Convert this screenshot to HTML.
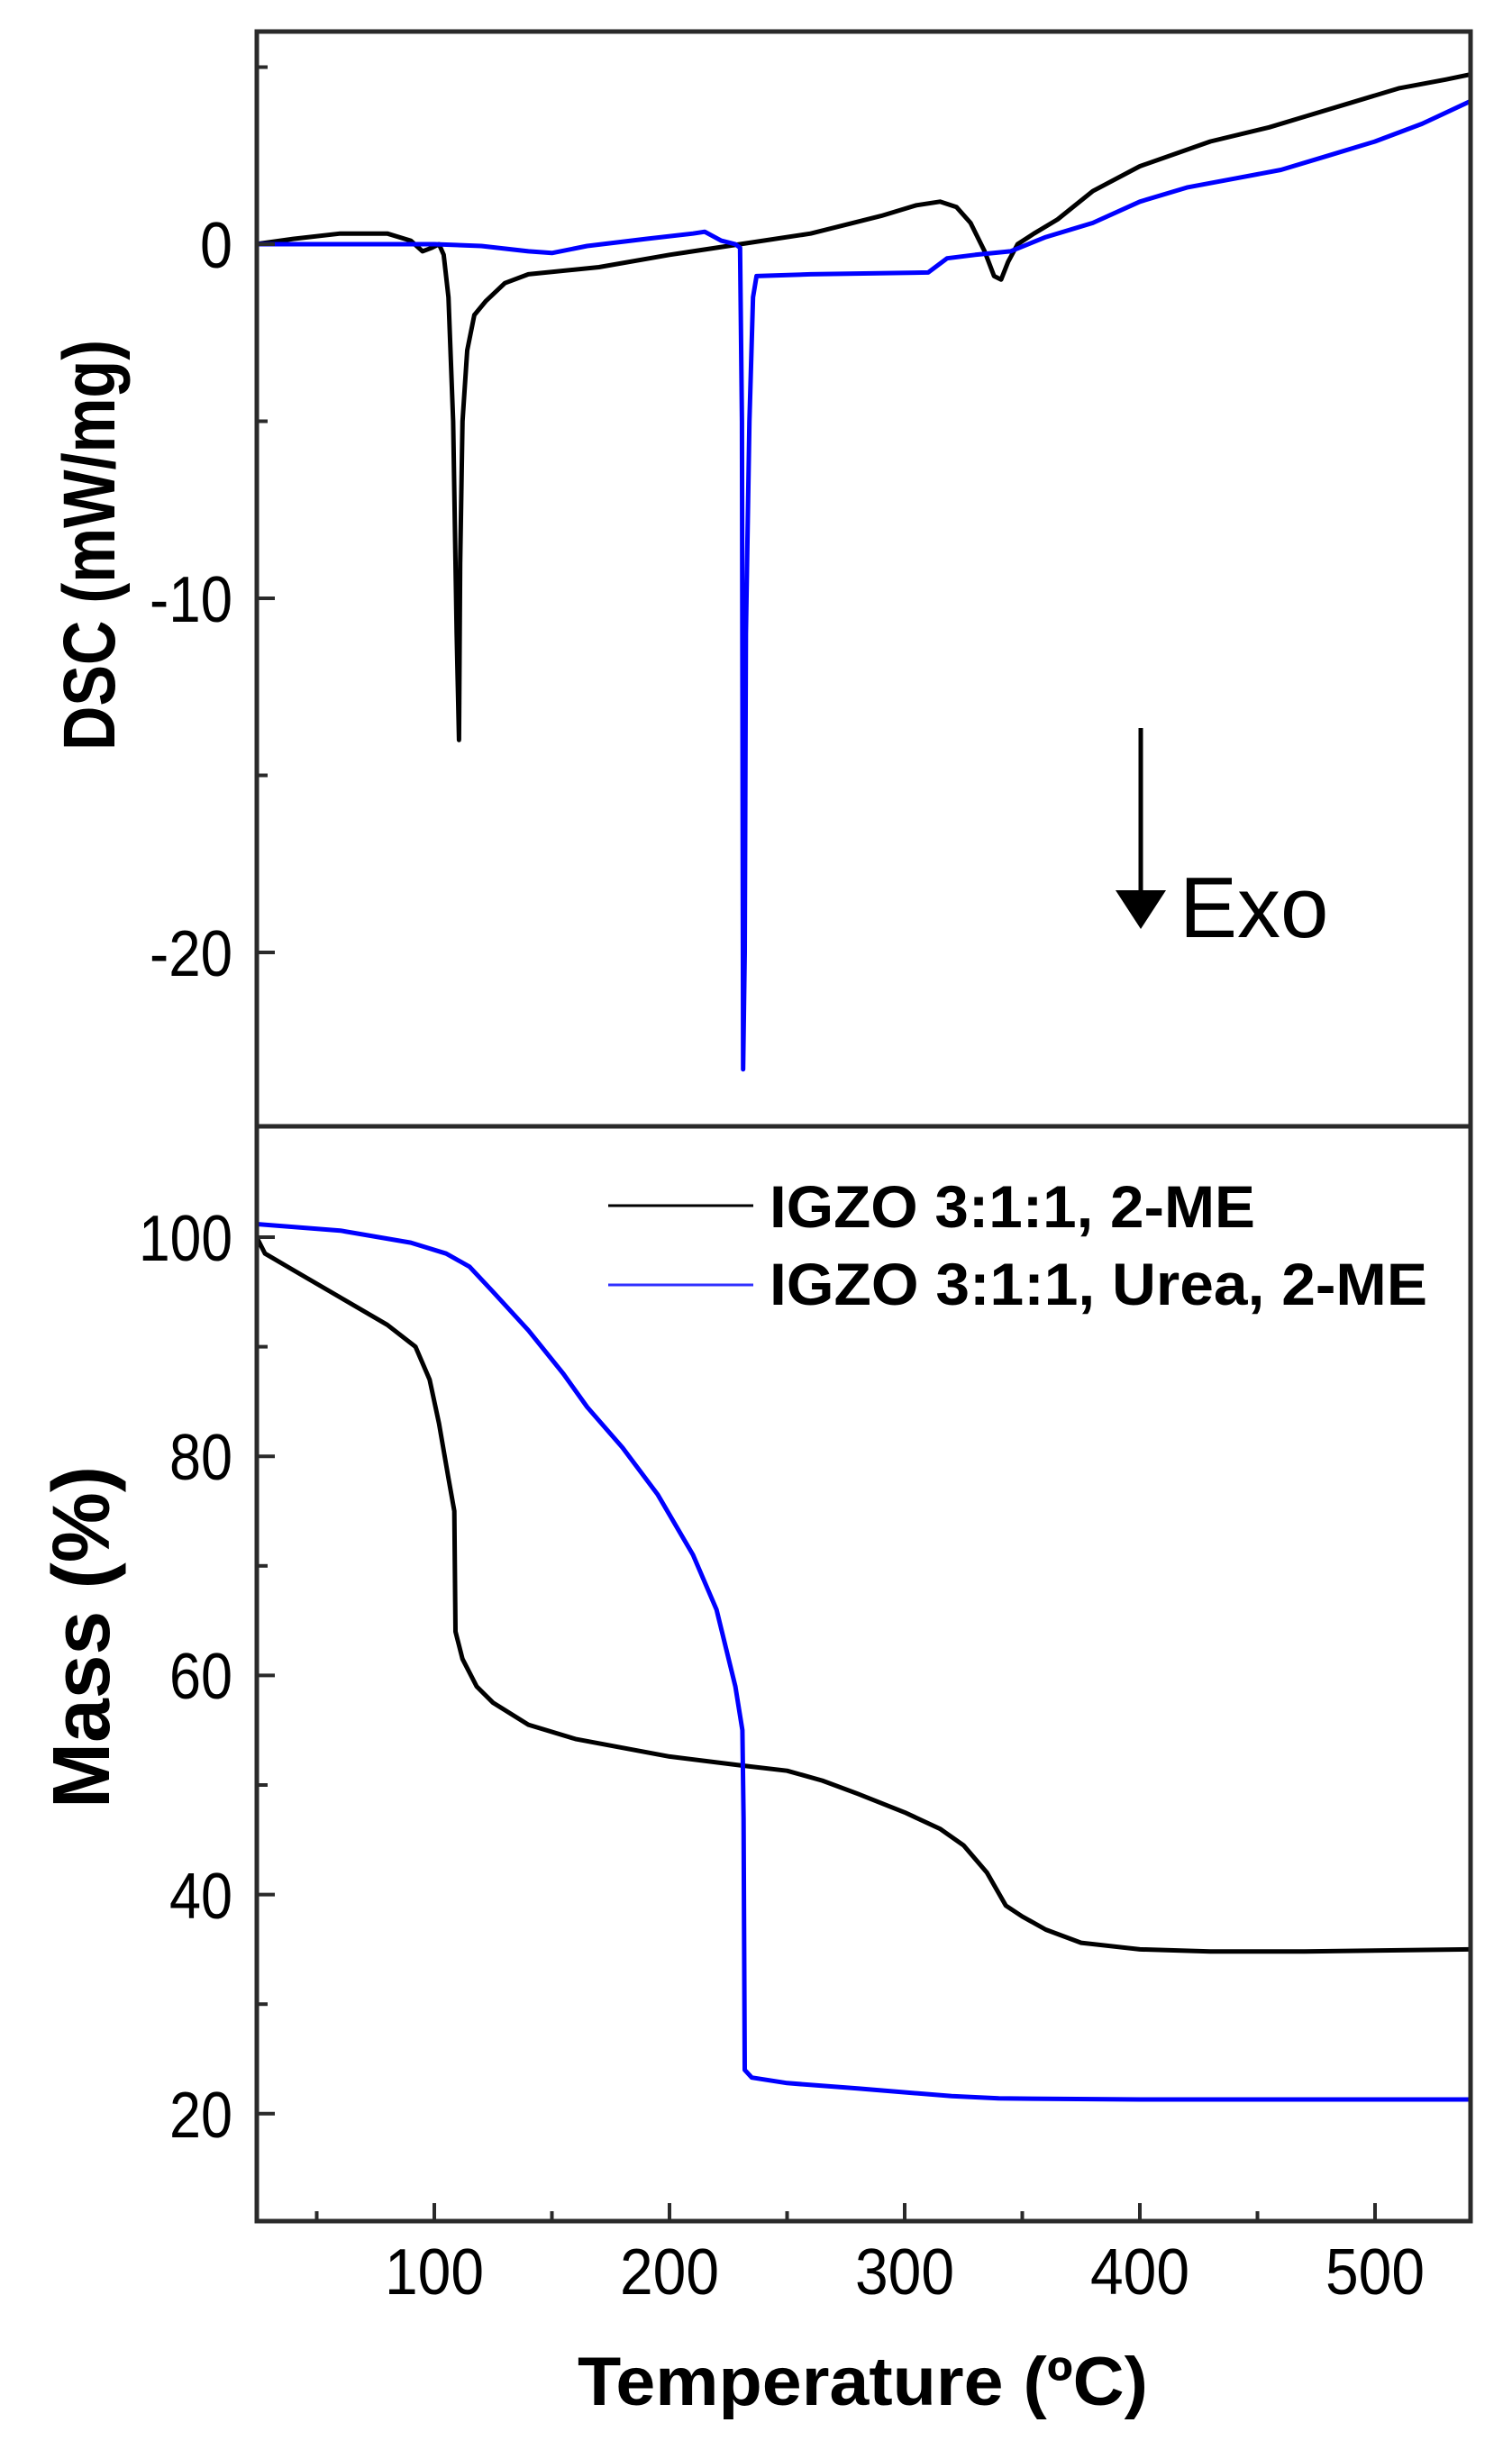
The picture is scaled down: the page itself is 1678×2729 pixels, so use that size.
<!DOCTYPE html>
<html><head><meta charset="utf-8"><style>
html,body{margin:0;padding:0;background:#fff;}
svg{display:block;}
text{font-family:"Liberation Sans",Arial,sans-serif;fill:#000;}
</style></head><body>
<svg id="s" width="1678" height="2729" viewBox="0 0 1678 2729" xmlns="http://www.w3.org/2000/svg">
<defs><clipPath id="cp"><rect x="285" y="35" width="1347" height="2430"/></clipPath></defs>
<rect width="1678" height="2729" fill="#fff"/>
<g id="curves" fill="none" stroke-linejoin="round" stroke-linecap="round" clip-path="url(#cp)"></g>
<g stroke="#2a2a2a" stroke-width="5" fill="none">
<rect x="285" y="35" width="1347" height="2430"/>
<line x1="285" y1="1250" x2="1632" y2="1250"/>
</g>
<g id="ticks" stroke="#2a2a2a" stroke-width="4"></g>
<g font-size="72" text-anchor="end">
<text x="258" y="297" textLength="36" lengthAdjust="spacingAndGlyphs">0</text>
<text x="258" y="690" textLength="92" lengthAdjust="spacingAndGlyphs">-10</text>
<text x="258" y="1083" textLength="92" lengthAdjust="spacingAndGlyphs">-20</text>
<text x="258" y="1399" textLength="104" lengthAdjust="spacingAndGlyphs">100</text>
<text x="258" y="1642" textLength="70" lengthAdjust="spacingAndGlyphs">80</text>
<text x="258" y="1885" textLength="70" lengthAdjust="spacingAndGlyphs">60</text>
<text x="258" y="2129" textLength="70" lengthAdjust="spacingAndGlyphs">40</text>
<text x="258" y="2372" textLength="70" lengthAdjust="spacingAndGlyphs">20</text>
</g>
<g font-size="72" text-anchor="middle">
<text x="482" y="2546" textLength="110" lengthAdjust="spacingAndGlyphs">100</text>
<text x="743" y="2546" textLength="110" lengthAdjust="spacingAndGlyphs">200</text>
<text x="1004" y="2546" textLength="110" lengthAdjust="spacingAndGlyphs">300</text>
<text x="1265" y="2546" textLength="110" lengthAdjust="spacingAndGlyphs">400</text>
<text x="1526" y="2546" textLength="110" lengthAdjust="spacingAndGlyphs">500</text>
</g>
<text x="641" y="2669" font-size="76" font-weight="bold" textLength="633" lengthAdjust="spacingAndGlyphs">Temperature (ºC)</text>
<text transform="translate(127,833) rotate(-90)" font-size="82" font-weight="bold" textLength="456" lengthAdjust="spacingAndGlyphs">DSC (mW/mg)</text>
<text transform="translate(121,2007) rotate(-90)" font-size="90" font-weight="bold" textLength="380" lengthAdjust="spacingAndGlyphs">Mass (%)</text>
<line x1="675" y1="1338" x2="836" y2="1338" stroke="#000" stroke-width="3"/>
<line x1="675" y1="1426" x2="836" y2="1426" stroke="#3030ff" stroke-width="3"/>
<text x="854" y="1362" font-size="66" font-weight="bold" textLength="539" lengthAdjust="spacingAndGlyphs">IGZO 3:1:1, 2-ME</text>
<text x="854" y="1448" font-size="66" font-weight="bold" textLength="730" lengthAdjust="spacingAndGlyphs">IGZO 3:1:1, Urea, 2-ME</text>
<line x1="1266" y1="808" x2="1266" y2="995" stroke="#000" stroke-width="5"/>
<polygon points="1238,988 1294,988 1266,1031" fill="#000"/>
<text x="1309" y="1040" font-size="96">Exo</text>
</svg>
<script>
(function(){
var NS="http://www.w3.org/2000/svg";
function X(t){return 482+(t-100)*2.61;}
function Yd(v){return 271-v*39.3;}
function Ym(m){return 1373-(m-100)*12.16;}
var g=document.getElementById("curves");
function path(pts,fy,col,w){
 var d="";pts.forEach(function(p,i){d+=(i?"L":"M")+X(p[0]).toFixed(1)+","+fy(p[1]).toFixed(1);});
 var e=document.createElementNS(NS,"path");e.setAttribute("d",d);e.setAttribute("stroke",col);e.setAttribute("stroke-width",w);g.appendChild(e);
}
var dB=[[24,0],[40,0.15],[60,0.3],[80,0.3],[90,0.1],[95,-0.2],[99,-0.1],[102,0],[104,-0.3],[106,-1.5],[108,-5],[109.5,-11],[110.5,-14],[111,-9],[112,-5],[114,-3],[117,-2],[122,-1.6],[130,-1.1],[140,-0.85],[170,-0.65],[200,-0.3],[230,0],[260,0.3],[290,0.8],[305,1.1],[315,1.2],[322,1.05],[328,0.6],[334,-0.2],[338,-0.9],[341,-1.0],[344,-0.5],[348,0],[355,0.3],[365,0.7],[380,1.5],[400,2.2],[430,2.9],[455,3.3],[470,3.6],[490,4.0],[510,4.4],[530,4.65],[541,4.8]];
var dU=[[24,0],[100,0],[120,-0.05],[140,-0.2],[150,-0.25],[165,-0.05],[190,0.15],[210,0.3],[215,0.35],[222,0.1],[228,0],[230,-0.1],[230.8,-5],[231.3,-23.3],[232,-20],[232.5,-11],[234,-5],[235.5,-1.5],[237,-0.9],[260,-0.85],[310,-0.8],[318,-0.4],[330,-0.3],[345,-0.2],[360,0.2],[380,0.6],[400,1.2],[420,1.6],[440,1.85],[460,2.1],[480,2.5],[500,2.9],[520,3.4],[541,4.05]];
var mB=[[24,100.2],[28,98.5],[40,97],[60,94.5],[80,92],[92,90],[98,87],[102,83],[106,78],[108.5,75],[109,64],[112,61.5],[118,59],[125,57.5],[140,55.5],[160,54.2],[200,52.6],[230,51.8],[250,51.3],[265,50.4],[280,49.2],[300,47.5],[315,46],[325,44.5],[335,42],[343,39],[350,38],[360,36.8],[375,35.6],[400,35],[430,34.8],[470,34.8],[541,35]];
var mU=[[24,101.2],[60,100.6],[90,99.5],[105,98.5],[115,97.3],[125,95],[140,91.5],[155,87.5],[165,84.5],[180,80.8],[195,76.5],[210,71],[220,66],[228,59],[231,55],[231.5,47],[232,24],[235,23.3],[250,22.8],[280,22.3],[320,21.6],[340,21.4],[400,21.3],[541,21.3]];
path(dB,Yd,"#000",5);path(dU,Yd,"#0000ff",5);
path(mB,Ym,"#000",5);path(mU,Ym,"#0000ff",5);
var tk=document.getElementById("ticks");
function ln(a,b,c,d){var e=document.createElementNS(NS,"line");e.setAttribute("x1",a);e.setAttribute("y1",b);e.setAttribute("x2",c);e.setAttribute("y2",d);tk.appendChild(e);}
[0,-10,-20].forEach(function(v){ln(285,Yd(v),305,Yd(v));});
[5,-5,-15].forEach(function(v){ln(285,Yd(v),297,Yd(v));});
[20,40,60,80,100].forEach(function(v){ln(285,Ym(v),305,Ym(v));});
[30,50,70,90].forEach(function(v){ln(285,Ym(v),297,Ym(v));});
[100,200,300,400,500].forEach(function(t){ln(X(t),2465,X(t),2445);});
[50,150,250,350,450].forEach(function(t){ln(X(t),2465,X(t),2454);});
})();
</script>
</body></html>
